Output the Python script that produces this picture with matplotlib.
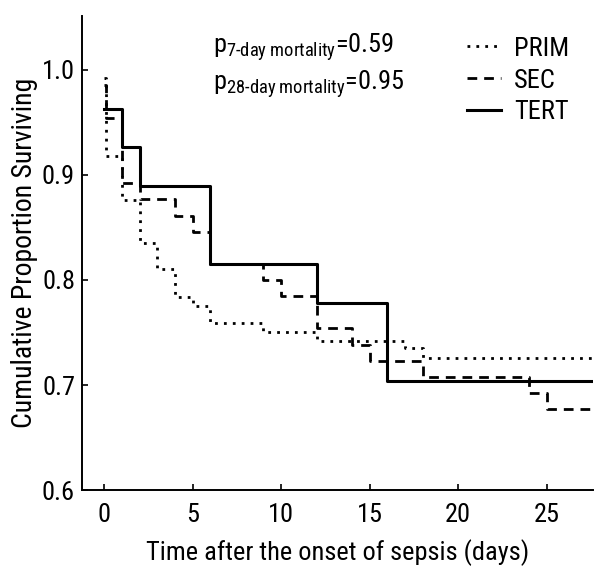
import matplotlib
matplotlib.use("Agg")
import matplotlib.pyplot as plt
from matplotlib import font_manager

# Kaplan-Meier style survival steps
prim_t = [0, 0.1, 1, 2, 3, 4, 5, 6, 9, 12, 17, 18]
prim_s = [0.992, 0.918, 0.876, 0.835, 0.810, 0.784, 0.775, 0.759, 0.750, 0.742, 0.735, 0.726]

sec_t = [0, 0.1, 1, 2, 4, 5, 6, 9, 10, 12, 14, 15, 18, 24, 25]
sec_s = [0.985, 0.954, 0.892, 0.877, 0.861, 0.846, 0.815, 0.800, 0.785,
         0.754, 0.738, 0.723, 0.708, 0.692, 0.677]

tert_t = [0, 1, 2, 6, 12, 16]
tert_s = [0.963, 0.926, 0.889, 0.815, 0.778, 0.704]

t_end = 28
x_ticks = [0, 5, 10, 15, 20, 25]
y_ticks = [0.6, 0.7, 0.8, 0.9, 1.0]

# prefer a narrow sans if one is around
names = {f.name for f in font_manager.fontManager.ttflist}
fam = "Liberation Sans"
for cand in ["Liberation Sans Narrow", "Arial Narrow", "Roboto Condensed",
             "Open Sans Condensed", "Noto Sans Condensed", "DejaVu Sans Condensed"]:
    if cand in names:
        fam = cand
        break
plt.rcParams["font.family"] = [fam, "DejaVu Sans"]
plt.rcParams["mathtext.fontset"] = "custom"
plt.rcParams["mathtext.rm"] = fam
plt.rcParams["mathtext.it"] = fam

fig = plt.figure(figsize=(5.94, 5.72), dpi=100)
ax = fig.add_axes([0.138, 0.143, 0.860, 0.829])

ax.step(prim_t + [t_end], prim_s + [prim_s[-1]], where="post", color="black",
        lw=2.0, ls=(0, (1, 2.2)), label="PRIM")
ax.step(sec_t + [t_end], sec_s + [sec_s[-1]], where="post", color="black",
        lw=2.0, ls=(0, (3.5, 2.5)), label="SEC")
ax.step(tert_t + [t_end], tert_s + [tert_s[-1]], where="post", color="black",
        lw=2.2, label="TERT")

ax.set_xlim(-1.25, 27.6)
ax.set_ylim(0.6, 1.051)
ax.set_xticks(x_ticks)
ax.set_yticks(y_ticks)
ax.set_yticklabels([f"{v:.1f}" for v in y_ticks])
ax.tick_params(direction="in", length=4, width=1.2, labelsize=19)
ax.tick_params(axis="x", pad=9)
ax.tick_params(axis="y", pad=5)
for s in ["top", "right"]:
    ax.spines[s].set_visible(False)
for s in ["left", "bottom"]:
    ax.spines[s].set_linewidth(1.4)

ax.set_xlabel("Time after the onset of sepsis (days)", fontsize=19, labelpad=9)
ax.set_ylabel("Cumulative Proportion Surviving", fontsize=20, labelpad=3)

ax.text(0.256, 0.935, r"p$_{\text{7-day mortality}}$=0.59", transform=ax.transAxes,
        fontsize=19, va="center")
ax.text(0.256, 0.857, r"p$_{\text{28-day mortality}}$=0.95", transform=ax.transAxes,
        fontsize=19, va="center")

ax.legend(loc="upper right", bbox_to_anchor=(0.985, 0.99), frameon=False, fontsize=19,
          handlelength=1.3, handletextpad=0.5, labelspacing=0.3, borderaxespad=0.2)

fig.savefig("out.png", dpi=100)
